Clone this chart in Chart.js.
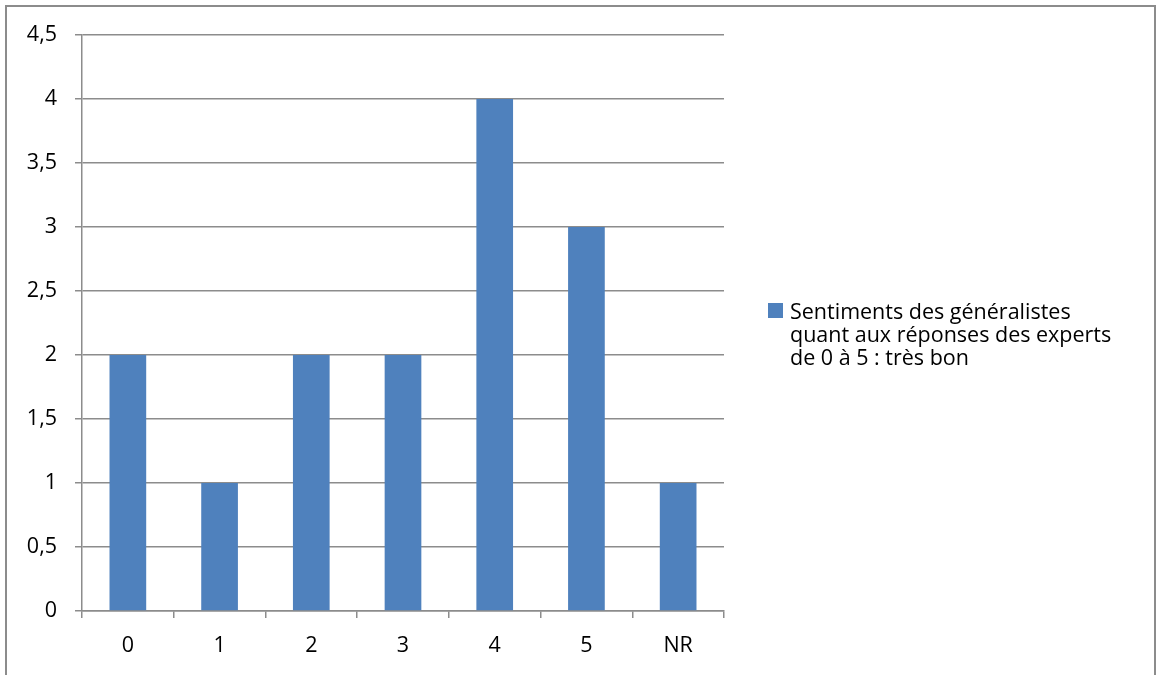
<!DOCTYPE html>
<html lang="fr">
<head>
<meta charset="utf-8">
<title>Sentiments des généralistes</title>
<script src="https://cdn.jsdelivr.net/npm/chart.js@4/dist/chart.umd.min.js"></script>
<style>
  html, body { margin: 0; padding: 0; background: #fff; }
  #wrap { position: relative; width: 1160px; height: 675px; overflow: hidden; }
  #frame {
    position: absolute; left: 5px; top: 5px; width: 1151px; height: 700px;
    border: 2px solid #8c8c8c; box-sizing: border-box;
  }
  #chart { position: absolute; left: 0; top: 0; }
  #legend {
    position: absolute; left: 768px; top: 299px;
    font-family: "Open Sans", sans-serif; font-size: 21.5px; line-height: 23px; color: #000;
    display: flex; align-items: flex-start;
  }
  #legend .box { width: 15px; height: 15px; margin: 4px 7px 0 0; flex: none; }
  #legend .text { white-space: pre-line; }
</style>
</head>
<body>
<div id="wrap">
  <div id="frame"></div>
  <canvas id="chart" width="1160" height="675"></canvas>
  <div id="legend"></div>
</div>
<script>
const categories = ['0', '1', '2', '3', '4', '5', 'NR'];
const seriesValues = [2, 1, 2, 2, 4, 3, 1];
const seriesLabelLines = [
  'Sentiments des généralistes',
  'quant aux réponses des experts',
  'de 0 à 5 : très bon'
];
const yTicks = [0, 0.5, 1, 1.5, 2, 2.5, 3, 3.5, 4, 4.5];

const barColor = '#4f81bd';
const axisColor = '#8c8c8c';

const createChart = function() {
  Chart.defaults.font.family = '"Open Sans", sans-serif';
  Chart.defaults.font.size = 21.5;
  Chart.defaults.color = '#000';

  const config = {
    type: 'bar',
    data: {
      labels: categories,
      datasets: [
        {
          label: seriesLabelLines.join(' '),
          backgroundColor: barColor,
          data: seriesValues,
          categoryPercentage: 1,
          barPercentage: 0.4
        }
      ]
    },
    options: {
      responsive: false,
      animation: false,
      layout: {
        padding: { left: 0, top: 35, right: 436, bottom: 0 }
      },
      plugins: {
        legend: { display: false },
        tooltip: { enabled: false }
      },
      scales: {
        x: {
          grid: {
            offset: true,
            drawOnChartArea: false,
            drawTicks: true,
            tickLength: 7,
            color: axisColor,
            lineWidth: 1.5
          },
          border: { color: axisColor, width: 1.5 },
          ticks: { padding: 15 },
          afterFit: (scale) => { scale.height = 64; }
        },
        y: {
          min: 0,
          max: 4.5,
          afterBuildTicks: (scale) => {
            scale.ticks = yTicks.map(v => ({ value: v }));
          },
          grid: {
            drawTicks: true,
            tickLength: 7,
            color: axisColor,
            lineWidth: 1.5
          },
          border: { color: axisColor, width: 1.5 },
          ticks: {
            padding: 18,
            callback: (v) => String(v).replace('.', ',')
          },
          afterFit: (scale) => { scale.width = 82; }
        }
      }
    }
  };
  new Chart(document.getElementById('chart'), config);
};

const createLegend = function() {
  const legend = document.getElementById('legend');
  const box = document.createElement('span');
  box.className = 'box';
  box.style.background = barColor;
  const text = document.createElement('span');
  text.className = 'text';
  text.textContent = seriesLabelLines.join('\n');
  legend.appendChild(box);
  legend.appendChild(text);
};

createChart();
createLegend();
</script>
</body>
</html>
